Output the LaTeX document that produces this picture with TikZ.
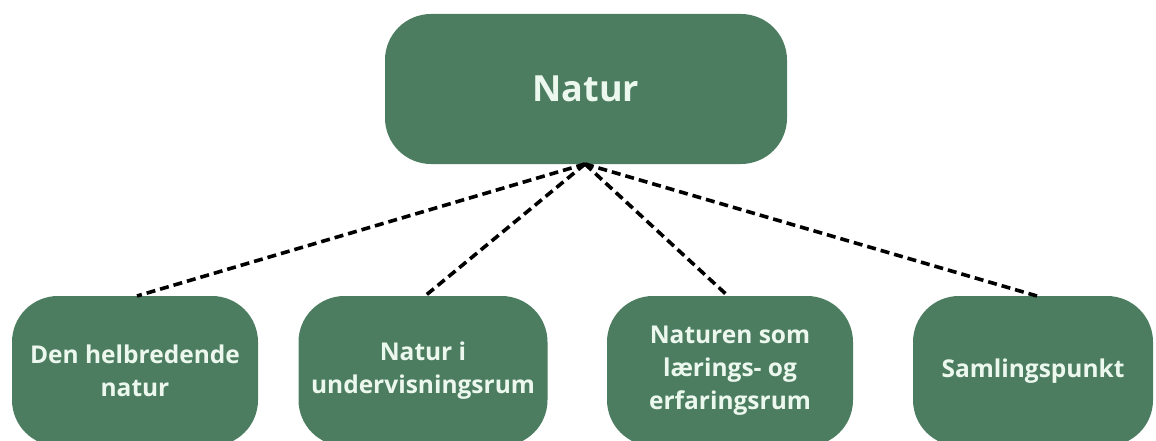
\documentclass[tikz,border=0pt]{standalone}
\usepackage{fontspec}
\setmainfont{Open Sans}
\definecolor{boxgreen}{RGB}{76,125,96}
\definecolor{txtmint}{RGB}{236,248,238}
\begin{document}
\begin{tikzpicture}[x=1pt,y=-1pt,
  gbox/.style={fill=boxgreen, draw=none, rounded corners=46pt, inner sep=0pt,
    text=txtmint, font=\bfseries\fontsize{24.5}{33}\selectfont, align=center},
  conn/.style={black, line width=3.6pt, dash pattern=on 9pt off 5pt}]
\useasboundingbox (0,0) rectangle (1156,441);
\node[gbox, minimum width=402pt, minimum height=150pt, font=\bfseries\fontsize{36}{42}\selectfont] (top) at (586,89) {Natur};
\node[gbox, minimum width=246pt, minimum height=150pt] (b1) at (135,371) {Den helbredende\\natur};
\node[gbox, minimum width=249pt, minimum height=150pt] (b2) at (423,371) {Natur i\\undervisningsrum};
\node[gbox, minimum width=246pt, minimum height=150pt] (b3) at (730,371) {Naturen som\\lærings- og\\erfaringsrum};
\node[gbox, minimum width=240pt, minimum height=150pt] (b4) at (1033,371) {Samlingspunkt};
\coordinate (apex) at (585,164);
\draw[conn] (apex) -- (137,296);
\draw[conn] (apex) -- (425,296);
\draw[conn] (apex) -- (728,296);
\draw[conn] (apex) -- (1037,296);
\end{tikzpicture}
\end{document}
